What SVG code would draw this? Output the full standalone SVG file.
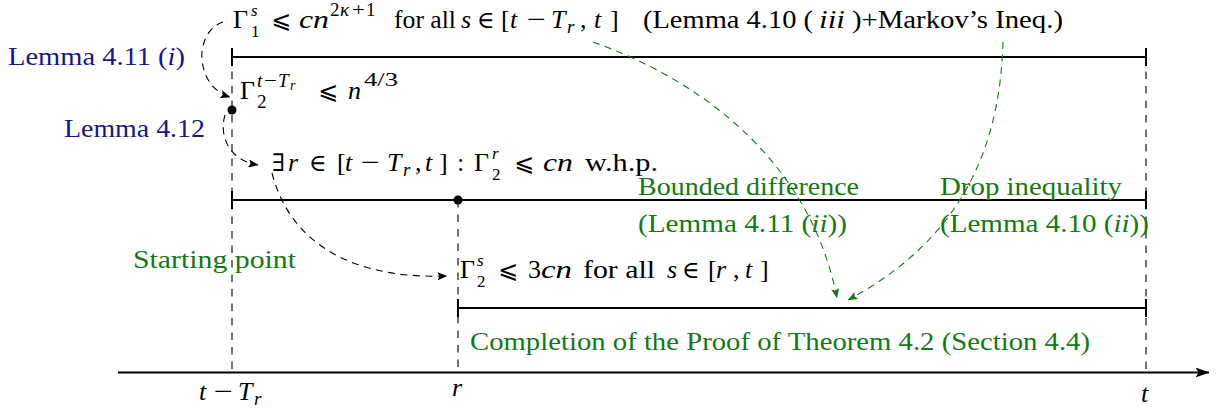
<svg xmlns="http://www.w3.org/2000/svg" width="1216" height="408" viewBox="0 0 1216 408">
<style>
text{font-family:"Liberation Serif","Times New Roman",serif;font-size:26px;fill:#000}
.i{font-style:italic}
.sc{font-size:19px}
.sx{font-size:17px}
.ss{font-size:14px}
.le{font-family:"DejaVu Sans","DejaVu Serif",sans-serif;font-size:24px}
.sym{font-family:"DejaVu Serif","DejaVu Sans",serif;font-size:24px}
.b{fill:#16168a}
.g{fill:#137a13}
.bar{stroke:#000;stroke-width:2;fill:none}
.vd{stroke:#000;stroke-width:1.1;stroke-dasharray:7.5 7;fill:none}
.cb{stroke:#000;stroke-width:1.1;stroke-dasharray:7 5.5;fill:none}
.cg{stroke:#137a13;stroke-width:1.1;stroke-dasharray:7 5.5;fill:none}
</style>
<defs>
<marker id="ab" viewBox="0 0 10 8" refX="9.5" refY="4" markerWidth="10" markerHeight="8" markerUnits="userSpaceOnUse" orient="auto"><path d="M0,0 L10,4 L0,8 L2,4 z" fill="#000"/></marker>
<marker id="ag" viewBox="0 0 10 8" refX="9.5" refY="4" markerWidth="10" markerHeight="8" markerUnits="userSpaceOnUse" orient="auto"><path d="M0,0 L10,4 L0,8 L2,4 z" fill="#137a13"/></marker>
<marker id="ax" viewBox="0 0 14 10" refX="13.5" refY="5" markerWidth="14" markerHeight="10" markerUnits="userSpaceOnUse" orient="auto"><path d="M0,0 L14,5 L0,10 L3,5 z" fill="#000"/></marker>
</defs>

<g id="axis">
<path d="M118,372.5 H1209" stroke="#000" stroke-width="2" marker-end="url(#ax)"/>
<path class="vd" d="M232,57 V372"/>
<path class="vd" d="M458,200 V372"/>
<path class="vd" d="M1146,57 V372"/>
<text class="i" x="199" y="400">t</text>
<text x="214" y="400" textLength="19" lengthAdjust="spacingAndGlyphs">−</text>
<text class="i" x="238" y="400">T</text>
<text class="i sc" x="254" y="405">r</text>
<text class="i" x="452" y="396">r</text>
<text class="i" x="1141" y="402">t</text>
</g>

<g id="bar1">
<path class="bar" d="M232,57 H1146 M232,48 V66 M1146,48 V66"/>
</g>
<g id="bar2">
<path class="bar" d="M232,200 H1146 M232,191 V209 M1146,191 V209"/>
<circle cx="458" cy="200" r="4.5"/>
</g>
<g id="bar3">
<path class="bar" d="M458,308 H1146 M458,299 V317 M1146,299 V317"/>
</g>
<circle cx="232" cy="110" r="4.5"/>

<g id="line1">
<text x="233" y="28">Γ</text>
<text class="i sx" x="251" y="16">s</text>
<text class="sx" x="251" y="37">1</text>
<text class="le" x="271" y="28">⩽</text>
<text class="i" x="299" y="28" textLength="30" lengthAdjust="spacingAndGlyphs">cn</text>
<text class="sc" x="330" y="16">2</text>
<text class="sc i" x="340" y="16">κ</text>
<text class="sc" x="352" y="16" textLength="13" lengthAdjust="spacingAndGlyphs">+</text>
<text class="sc" x="366" y="16">1</text>
<text x="394" y="28" textLength="62" lengthAdjust="spacingAndGlyphs">for all</text>
<text class="i" x="461" y="28">s</text>
<text class="sym" x="477" y="28">∈</text>
<text x="501" y="28">[</text>
<text class="i" x="510" y="28">t</text>
<text x="527" y="28" textLength="19" lengthAdjust="spacingAndGlyphs">−</text>
<text class="i" x="551" y="28">T</text>
<text class="i sc" x="567" y="33">r</text>
<text x="580" y="28">,</text>
<text class="i" x="594" y="28">t</text>
<text x="610" y="28">]</text>
<text x="643" y="28" textLength="170" lengthAdjust="spacingAndGlyphs">(Lemma 4.10 (</text>
<text class="i" x="819" y="28" textLength="26" lengthAdjust="spacingAndGlyphs">iii</text>
<text x="852" y="28" textLength="211" lengthAdjust="spacingAndGlyphs">)+Markov’s Ineq.)</text>
</g>

<g id="line2">
<text x="240" y="99">Γ</text>
<text class="i sc" x="257" y="87">t</text>
<text class="sc" x="264" y="87" textLength="13" lengthAdjust="spacingAndGlyphs">−</text>
<text class="i sc" x="278" y="87">T</text>
<text class="i ss" x="290" y="90">r</text>
<text class="sc" x="257" y="108">2</text>
<text class="le" x="318" y="99">⩽</text>
<text class="i" x="348" y="99">n</text>
<text class="sc" x="364" y="86" textLength="34" lengthAdjust="spacingAndGlyphs">4/3</text>
</g>

<g id="line3">
<text class="sym" x="272" y="171">∃</text>
<text class="i" x="288" y="171">r</text>
<text class="sym" x="309" y="171">∈</text>
<text x="337" y="171">[</text>
<text class="i" x="345" y="171">t</text>
<text x="361" y="171" textLength="19" lengthAdjust="spacingAndGlyphs">−</text>
<text class="i" x="387" y="171">T</text>
<text class="i sc" x="403" y="176">r</text>
<text x="415" y="171">,</text>
<text class="i" x="425" y="171">t</text>
<text x="439" y="171">]</text>
<text x="457" y="171">:</text>
<text x="474" y="171">Γ</text>
<text class="i sx" x="492" y="159">r</text>
<text class="sx" x="492" y="180">2</text>
<text class="le" x="514" y="171">⩽</text>
<text class="i" x="543" y="171" textLength="30" lengthAdjust="spacingAndGlyphs">cn</text>
<text x="585" y="171" textLength="73" lengthAdjust="spacingAndGlyphs">w.h.p.</text>
</g>

<g id="line4">
<text x="460" y="278">Γ</text>
<text class="i sx" x="477" y="266">s</text>
<text class="sx" x="477" y="287">2</text>
<text class="le" x="498" y="278">⩽</text>
<text x="528" y="278">3</text>
<text class="i" x="541" y="278" textLength="31" lengthAdjust="spacingAndGlyphs">cn</text>
<text x="583" y="278" textLength="72" lengthAdjust="spacingAndGlyphs">for all</text>
<text class="i" x="667" y="278">s</text>
<text class="sym" x="682" y="278">∈</text>
<text x="708" y="278">[</text>
<text class="i" x="716" y="278">r</text>
<text x="733" y="278">,</text>
<text class="i" x="745" y="278">t</text>
<text x="760" y="278">]</text>
</g>

<g id="lemma411i">
<text class="b" x="8" y="65" textLength="177" lengthAdjust="spacingAndGlyphs">Lemma 4.11 (<tspan class="i">i</tspan>)</text>
</g>
<g id="lemma412">
<text class="b" x="64" y="137" textLength="141" lengthAdjust="spacingAndGlyphs">Lemma 4.12</text>
</g>
<g id="bounded">
<text class="g" x="638" y="195" textLength="221" lengthAdjust="spacingAndGlyphs">Bounded difference</text>
<text class="g" x="638" y="232" textLength="209" lengthAdjust="spacingAndGlyphs">(Lemma 4.11 (<tspan class="i">ii</tspan>))</text>
</g>
<g id="drop">
<text class="g" x="940" y="195" textLength="182" lengthAdjust="spacingAndGlyphs">Drop inequality</text>
<text class="g" x="940" y="232" textLength="209" lengthAdjust="spacingAndGlyphs">(Lemma 4.10 (<tspan class="i">ii</tspan>))</text>
</g>
<g id="starting">
<text class="g" x="133" y="268" textLength="163" lengthAdjust="spacingAndGlyphs">Starting point</text>
</g>
<g id="completion">
<text class="g" x="470" y="350" textLength="620" lengthAdjust="spacingAndGlyphs">Completion of the Proof of Theorem 4.2 (Section 4.4)</text>
</g>

<g id="connectors">
<path class="cb" d="M223,22 C205,28 199,50 203,66 C206,80 214,92 230,97" marker-end="url(#ab)"/>
<path class="cb" d="M225,115 C219,135 228,160 258,165" marker-end="url(#ab)"/>
<path class="cb" d="M272,173 C285,225 330,280 447,276" marker-end="url(#ab)"/>
<path class="cg" d="M593,42 C700,80 810,160 837,298" marker-end="url(#ag)"/>
<path class="cg" d="M1003,42 C1000,150 960,240 848,300" marker-end="url(#ag)"/>
</g>
</svg>
